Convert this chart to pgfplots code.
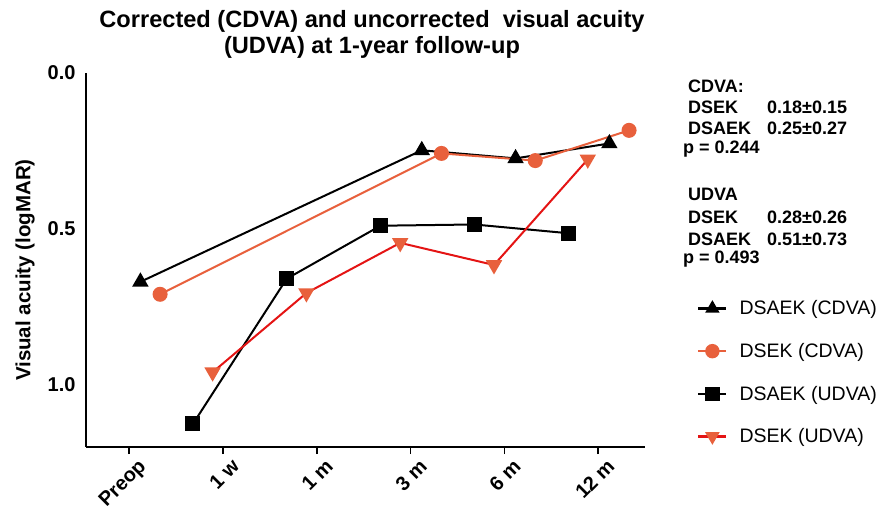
\documentclass[border=0pt]{standalone}
\usepackage{pgfplots}
\pgfplotsset{compat=1.18}
\usepackage{fontspec}
\setmainfont{Liberation Sans}
\definecolor{myorange}{RGB}{232,96,60}
\definecolor{myred}{RGB}{228,20,20}
\begin{document}
\begin{tikzpicture}[x=1pt,y=1pt]
\useasboundingbox (-86,-65) rectangle (791,447);
\begin{axis}[at={(0,0)},anchor=south west,scale only axis,width=559pt,height=374pt,
  xmin=-0.46,xmax=5.5,ymin=0,ymax=1.2,y dir=reverse,
  axis x line=bottom, axis y line=left,
  axis line style={line width=1.6pt,-},
  xtick={0,1,2,3,4,5}, xticklabels={Preop,1 w,1 m,3 m,6 m,12 m},
  ytick={0,0.5,1.0},
  yticklabel style={/pgf/number format/fixed,/pgf/number format/fixed zerofill,/pgf/number format/precision=1},
  /pgf/number format/assume math mode=true,
  ticklabel style={font=\fontsize{20}{22}\selectfont\bfseries},
  x tick label style={rotate=45,anchor=north east,inner sep=1pt,xshift=4pt,yshift=-7pt},
  y tick style={draw=none},
  x tick style={line width=1.6pt,black},
  tick align=outside, major tick length=7pt,
  ylabel={\bfseries Visual acuity (logMAR)},
  every axis y label/.append style={at={(axis description cs:-0.109,0.473)},anchor=center,font=\fontsize{20.5}{22}\selectfont},
  legend style={at={(axis description cs:1.093,0.397)},anchor=north west,draw=none,fill=none,
    font=\fontsize{19.5}{22}\selectfont,row sep=23pt,inner sep=0pt,
    /tikz/every odd column/.append style={column sep=10pt}},
  legend cell align=left,
  legend image code/.code={\draw[#1,line width=2.4pt,mark size=6pt,mark repeat=2,mark phase=2] plot coordinates {(0pt,0pt) (14pt,0pt) (28pt,0pt)};},
  clip=false,
]
\addplot[black,line width=2pt,mark=triangle*,mark size=7.5pt,mark options={solid,fill=black}]
  coordinates {(0.12,0.67) (3.12,0.248) (4.12,0.274) (5.12,0.226)};
\addlegendentry{DSAEK (CDVA)}
\addplot[myorange,line width=2pt,mark=*,mark size=6.5pt,mark options={solid,fill=myorange}]
  coordinates {(0.33,0.71) (3.33,0.258) (4.33,0.281) (5.33,0.184)};
\addlegendentry{DSEK (CDVA)}
\addplot[black,line width=2pt,mark=square*,mark size=6.5pt,mark options={solid,fill=black}]
  coordinates {(0.68,1.126) (1.68,0.66) (2.68,0.49) (3.68,0.486) (4.68,0.514)};
\addlegendentry{DSAEK (UDVA)}
\addplot[myred,line width=2pt,mark=triangle*,mark size=7.5pt,mark options={solid,fill=myorange,draw=myorange,rotate=180}]
  coordinates {(0.89,0.96) (1.89,0.706) (2.89,0.545) (3.89,0.616) (4.89,0.277)};
\addlegendentry{DSEK (UDVA)}
\end{axis}
\begin{scope}[font=\fontsize{23.6}{26}\selectfont\bfseries]
\node[anchor=base,inner sep=0] at (286,419) {Corrected (CDVA) and uncorrected\ \ visual acuity};
\node[anchor=base,inner sep=0] at (286,393) {(UDVA) at 1-year follow-up};
\end{scope}
\begin{scope}[font=\fontsize{18}{20}\selectfont\bfseries]
\node[anchor=base west,inner sep=0] at (602,354) {CDVA:};
\node[anchor=base west,inner sep=0] at (602,333) {DSEK};
\node[anchor=base west,inner sep=0] at (681,333) {0.18±0.15};
\node[anchor=base west,inner sep=0] at (602,312) {DSAEK};
\node[anchor=base west,inner sep=0] at (681,312) {0.25±0.27};
\node[anchor=base west,inner sep=0] at (597,293) {p = 0.244};
\node[anchor=base west,inner sep=0] at (602,247) {UDVA};
\node[anchor=base west,inner sep=0] at (602,224) {DSEK};
\node[anchor=base west,inner sep=0] at (681,224) {0.28±0.26};
\node[anchor=base west,inner sep=0] at (602,202) {DSAEK};
\node[anchor=base west,inner sep=0] at (681,202) {0.51±0.73};
\node[anchor=base west,inner sep=0] at (597,184) {p = 0.493};
\end{scope}
\end{tikzpicture}
\end{document}
